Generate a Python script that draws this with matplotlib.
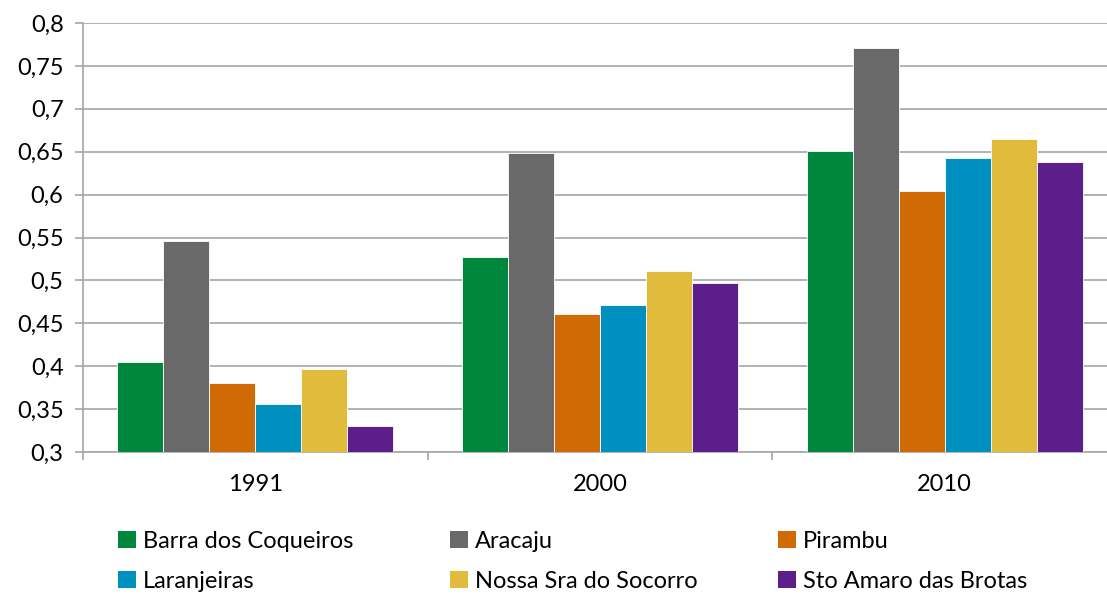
import numpy as np
import matplotlib.pyplot as plt
from matplotlib.patches import Patch

plt.rcParams['font.family'] = ['Lato', 'DejaVu Sans']

# dados
anos = ['1991', '2000', '2010']
municipios = ['Barra dos Coqueiros', 'Aracaju', 'Pirambu',
              'Laranjeiras', 'Nossa Sra do Socorro', 'Sto Amaro das Brotas']
barra = [0.405, 0.527, 0.651]
aracaju = [0.546, 0.648, 0.771]
pirambu = [0.380, 0.461, 0.604]
laranjeiras = [0.356, 0.471, 0.643]
socorro = [0.397, 0.511, 0.665]
sto_amaro = [0.330, 0.497, 0.638]
series = [barra, aracaju, pirambu, laranjeiras, socorro, sto_amaro]
cores = ['#00873E', '#696969', '#D06A05', '#0090C0', '#E1BB3C', '#5C1E8A']

W, H = 1107, 597
fig = plt.figure(figsize=(W / 100, H / 100), dpi=100)
ax = fig.add_axes([83 / W, 1 - 452 / H, (1117 - 83) / W, (452 - 23) / H])

x = np.arange(len(anos))
w = 0.1335
for i, (vals, cor) in enumerate(zip(series, cores)):
    ax.bar(x + (i - 2.5) * w, vals, w, color=cor, edgecolor='white',
           linewidth=0.6, zorder=3)

ax.set_ylim(0.3, 0.8)
ax.set_xlim(-0.5, 2.5)
yt = np.arange(0.3, 0.801, 0.05)
ax.set_yticks(yt)
ax.set_yticklabels([('%g' % round(v, 2)).replace('.', ',') for v in yt], fontsize=17)
ax.grid(axis='y', color='#A6A6A6', linewidth=1.2, zorder=0)
ax.set_xticks(x)
ax.set_xticklabels(anos, fontsize=17)
ax.set_xticks([-0.5, 0.5, 1.5, 2.5], minor=True)
ax.tick_params(axis='x', which='major', length=0, pad=16)
ax.tick_params(axis='x', which='minor', length=6, color='#A6A6A6', width=1.2)
ax.tick_params(axis='y', length=6, color='#A6A6A6', width=1.2, pad=8)
for s in ['top', 'right']:
    ax.spines[s].set_visible(False)
for s in ['left', 'bottom']:
    ax.spines[s].set_color('#A6A6A6')
    ax.spines[s].set_linewidth(1.2)

# legenda em tres colunas
col_x = [118 / W, 450 / W, 778 / W]
for c in range(3):
    idx = [c, c + 3]
    handles = [Patch(facecolor=cores[k], edgecolor='none') for k in idx]
    fig.legend(handles, [municipios[k] for k in idx], loc='upper left',
               bbox_to_anchor=(col_x[c], 1 - 531 / H), frameon=False,
               fontsize=17, handlelength=0.75, handleheight=0.75,
               handletextpad=0.3, labelspacing=0.8, borderaxespad=0,
               borderpad=0)

fig.savefig('out.png', dpi=100)
